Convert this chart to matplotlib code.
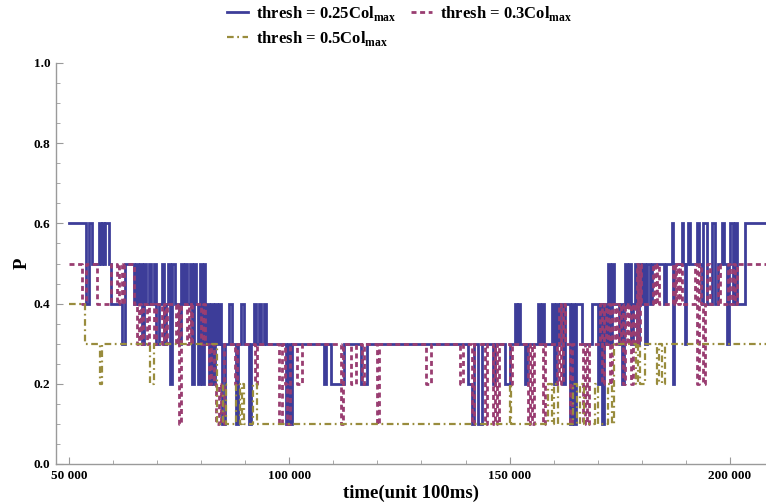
import numpy as np
import matplotlib
matplotlib.use("Agg")
import matplotlib.pyplot as plt
from matplotlib.ticker import MultipleLocator, FuncFormatter

plt.rcParams['font.family'] = ['Liberation Serif', 'DejaVu Serif']
plt.rcParams['font.weight'] = 'bold'
plt.rcParams['mathtext.fontset'] = 'custom'
plt.rcParams['mathtext.rm'] = 'Liberation Serif:bold'
plt.rcParams['mathtext.bf'] = 'Liberation Serif:bold'

# step data: change times (thousands of units of 100ms) and P level after each change
blue_t = [50.0, 53.86, 54.55, 55.23, 56.82, 57.27, 57.50, 57.95, 58.18, 59.09, 59.55,
          62.05, 62.73, 64.77, 65.23, 65.68, 66.14, 66.59, 67.05, 67.50, 68.18, 68.64,
          69.32, 69.77, 70.45, 71.14, 71.59, 72.05, 72.50, 72.95, 73.41, 74.09, 75.00,
          75.45, 75.91, 76.36, 76.82, 77.50, 77.95, 78.41, 78.86, 79.32, 79.77, 80.23,
          80.68, 80.91, 81.36, 81.82, 82.27, 82.73, 83.18, 83.64, 84.09, 84.55, 84.77,
          85.45, 86.36, 87.05, 87.95, 88.41, 89.09, 89.77, 90.91, 91.36, 92.05, 92.50,
          93.18, 93.64, 94.32, 94.77, 99.32, 99.77, 100.23, 100.68, 107.95, 108.41,
          109.55, 112.50, 116.36, 117.73, 140.45, 141.36, 141.82, 142.73, 143.64,
          146.14, 146.59, 148.86, 150.0, 151.14, 151.59, 151.82, 152.27, 153.41, 153.86,
          156.36, 156.82, 157.27, 157.73, 159.55, 160.0, 160.45, 160.91, 161.36, 162.05,
          162.50, 163.64, 164.09, 164.55, 165.0, 166.36, 168.64, 170.0, 170.45, 170.91,
          171.36, 171.82, 172.27, 172.73, 173.18, 173.64, 174.77, 175.0, 175.45, 175.91,
          176.14, 176.59, 177.05, 177.5, 177.95, 178.41, 178.86, 179.32, 179.77, 180.23,
          180.68, 181.14, 181.82, 182.27, 185.0, 185.45, 186.82, 187.05, 187.27, 189.09,
          189.32, 189.77, 190.0, 190.45, 190.91, 192.5, 192.95, 193.64, 193.86, 194.77,
          195.91, 196.59, 197.27, 198.18, 198.64, 199.32, 199.77, 200.0, 200.68, 201.14,
          201.59, 203.41, 208.2]
blue_p = [0.6, 0.4, 0.6, 0.5, 0.6, 0.5, 0.6, 0.5, 0.6, 0.5, 0.4,
          0.3, 0.5, 0.4, 0.5, 0.4, 0.5, 0.3, 0.5, 0.4, 0.5, 0.4,
          0.5, 0.3, 0.4, 0.5, 0.3, 0.4, 0.5, 0.2, 0.5, 0.4, 0.3,
          0.5, 0.4, 0.5, 0.4, 0.5, 0.2, 0.5, 0.4, 0.2, 0.5, 0.2,
          0.5, 0.3, 0.4, 0.2, 0.4, 0.2, 0.4, 0.3, 0.4, 0.3, 0.1,
          0.3, 0.4, 0.3, 0.1, 0.3, 0.4, 0.3, 0.1, 0.3, 0.4, 0.3,
          0.4, 0.3, 0.4, 0.3, 0.1, 0.3, 0.1, 0.3, 0.2, 0.3,
          0.2, 0.3, 0.2, 0.3, 0.2, 0.1, 0.3, 0.1, 0.3,
          0.2, 0.3, 0.2, 0.3, 0.4, 0.3, 0.4, 0.3, 0.2, 0.3,
          0.4, 0.3, 0.4, 0.3, 0.4, 0.2, 0.4, 0.3, 0.4, 0.2,
          0.4, 0.1, 0.4, 0.1, 0.4, 0.3, 0.4, 0.2, 0.4, 0.1,
          0.4, 0.3, 0.5, 0.3, 0.5, 0.4, 0.3, 0.4, 0.2, 0.4,
          0.5, 0.4, 0.5, 0.3, 0.4, 0.5, 0.3, 0.5, 0.4, 0.5,
          0.3, 0.5, 0.4, 0.5, 0.4, 0.5, 0.6, 0.2, 0.5, 0.6,
          0.5, 0.3, 0.5, 0.6, 0.5, 0.6, 0.5, 0.4, 0.6, 0.4,
          0.6, 0.4, 0.5, 0.6, 0.5, 0.3, 0.5, 0.6, 0.4, 0.6,
          0.4, 0.6, 0.6]

purple_t = [50.0, 52.95, 53.86, 56.36, 59.55, 60.91, 61.36, 62.05, 62.50, 64.77,
            65.45, 65.91, 66.36, 66.82, 67.73, 68.18, 69.32, 69.77, 71.14, 71.59,
            72.05, 72.27, 74.32, 74.77, 75.00, 75.45, 76.82, 77.27, 77.73, 77.95,
            80.00, 80.45, 80.91, 81.82, 82.27, 82.95, 83.41, 84.09, 84.55, 85.23,
            87.73, 88.18, 92.27, 92.73, 97.73, 98.41, 99.09, 99.55, 100.23, 101.82,
            102.95, 111.82, 112.27, 114.09, 115.23, 116.59, 117.05, 120.0, 120.45,
            131.14, 132.27, 138.64, 139.32, 141.36, 141.82, 144.32, 144.77, 146.14,
            146.59, 147.05, 147.50, 150.0, 150.45, 154.09, 154.55, 155.0, 155.45,
            157.50, 157.95, 160.68, 161.14, 161.59, 162.05, 162.50, 163.64, 164.09,
            166.59, 167.05, 167.50, 167.95, 170.45, 170.91, 171.36, 171.82, 172.27,
            172.73, 173.18, 173.86, 174.32, 174.77, 175.23, 175.68, 176.14, 176.59,
            177.05, 177.5, 177.95, 178.41, 178.86, 179.09, 179.55, 179.77, 182.5,
            182.95, 183.41, 183.86, 187.05, 187.5, 187.73, 188.18, 188.64, 189.09,
            192.05, 192.5, 192.95, 193.41, 193.86, 194.32, 194.77, 195.45, 197.27,
            197.73, 199.55, 200.0, 200.68, 201.14, 201.59, 208.2]
purple_p = [0.5, 0.4, 0.5, 0.4, 0.5, 0.4, 0.5, 0.4, 0.5, 0.4,
            0.3, 0.4, 0.3, 0.4, 0.3, 0.4, 0.3, 0.4, 0.3, 0.4,
            0.3, 0.4, 0.3, 0.4, 0.1, 0.4, 0.3, 0.4, 0.3, 0.4,
            0.3, 0.4, 0.3, 0.2, 0.3, 0.2, 0.1, 0.2, 0.1, 0.3,
            0.2, 0.3, 0.2, 0.3, 0.1, 0.3, 0.2, 0.1, 0.3, 0.2,
            0.3, 0.1, 0.3, 0.2, 0.3, 0.2, 0.3, 0.1, 0.3,
            0.2, 0.3, 0.2, 0.3, 0.1, 0.3, 0.1, 0.3, 0.1,
            0.3, 0.1, 0.3, 0.2, 0.3, 0.1, 0.3, 0.1, 0.3,
            0.1, 0.3, 0.2, 0.4, 0.2, 0.4, 0.3, 0.1, 0.3,
            0.1, 0.3, 0.1, 0.3, 0.4, 0.2, 0.4, 0.3, 0.4,
            0.2, 0.4, 0.3, 0.4, 0.3, 0.4, 0.2, 0.4, 0.3,
            0.4, 0.2, 0.4, 0.3, 0.5, 0.3, 0.5, 0.4, 0.5,
            0.4, 0.5, 0.4, 0.5, 0.4, 0.5, 0.4, 0.5, 0.4,
            0.5, 0.2, 0.5, 0.4, 0.2, 0.4, 0.5, 0.4, 0.5,
            0.4, 0.5, 0.4, 0.5, 0.4, 0.5, 0.5]

olive_t = [50.0, 53.64, 57.05, 57.50, 68.41, 69.32, 83.64, 85.00, 85.68, 87.95,
           88.86, 89.32, 89.77, 91.82, 92.73, 150.0, 150.23, 158.64, 159.55, 160.0,
           160.91, 164.32, 165.23, 165.91, 166.82, 169.32, 170.0, 172.27, 173.18,
           173.64, 178.64, 179.09, 179.55, 180.68, 183.41, 183.86, 184.55, 185.23, 208.2]
olive_p = [0.4, 0.3, 0.2, 0.3, 0.2, 0.3, 0.1, 0.2, 0.1, 0.2,
           0.1, 0.2, 0.1, 0.2, 0.1, 0.2, 0.1, 0.2, 0.1, 0.2,
           0.1, 0.2, 0.1, 0.2, 0.1, 0.2, 0.1, 0.2, 0.1,
           0.3, 0.2, 0.3, 0.2, 0.3, 0.2, 0.3, 0.2, 0.3, 0.3]

labels = [r'thresh = 0.25Col$_{\mathbf{max}}$',
          r'thresh = 0.3Col$_{\mathbf{max}}$',
          r'thresh = 0.5Col$_{\mathbf{max}}$']

fig = plt.figure(figsize=(7.66, 5.03), dpi=100)
ax = fig.add_axes([56 / 766, 1 - 464 / 503, 1 - 56 / 766, (464 - 63) / 503])

h1, = ax.step(np.array(blue_t) * 1000, blue_p, where='post', color='#3d3d99',
              lw=2.0, solid_joinstyle='miter')
h2, = ax.step(np.array(purple_t) * 1000, purple_p, where='post', color='#993d71',
              lw=2.0, dashes=(1.8, 1.3))
h3, = ax.step(np.array(olive_t) * 1000, olive_p, where='post', color='#998c3d',
              lw=1.6, dashes=(3.0, 1.6, 0.8, 1.6))

ax.set_xlim(47050, 208200)
ax.set_ylim(0, 1.0)
ax.xaxis.set_major_locator(MultipleLocator(50000))
ax.xaxis.set_minor_locator(MultipleLocator(10000))
ax.yaxis.set_major_locator(MultipleLocator(0.2))
ax.yaxis.set_minor_locator(MultipleLocator(0.05))
ax.xaxis.set_major_formatter(FuncFormatter(lambda v, p: f"{int(v):,}".replace(",", " ")))
ax.yaxis.set_major_formatter(FuncFormatter(lambda v, p: f"{v:.1f}"))

for s in ['top', 'right']:
    ax.spines[s].set_visible(False)
for s in ['left', 'bottom']:
    ax.spines[s].set_color('#9a9a9a')
    ax.spines[s].set_linewidth(1.0)
ax.tick_params(which='both', direction='in', color='#9a9a9a', labelsize=9.5)
ax.tick_params(which='major', length=5, width=0.8, pad=4)
ax.tick_params(which='minor', length=3, width=0.6)
for lab in ax.get_xticklabels() + ax.get_yticklabels():
    lab.set_fontweight('bold')

ax.set_xlabel('time(unit 100ms)', fontsize=13.5, fontweight='bold', labelpad=2)
ax.set_ylabel('P', fontsize=13.5, fontweight='bold', labelpad=2)

fig.legend([h1, h3, h2], [labels[0], labels[2], labels[1]], loc='upper left',
           bbox_to_anchor=(220 / 766, 1.005), ncol=2, frameon=False,
           prop={'size': 12, 'weight': 'bold'}, handlelength=1.3,
           columnspacing=0.85, labelspacing=0.35, handletextpad=0.45,
           borderaxespad=0)

fig.savefig('out.png', dpi=100)
